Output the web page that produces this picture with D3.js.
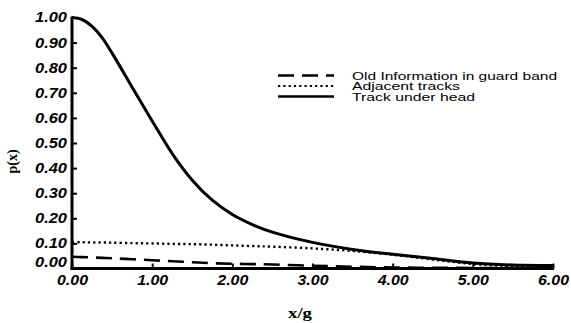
<!DOCTYPE html>
<html>
<head>
<meta charset="utf-8">
<script src="https://cdn.jsdelivr.net/npm/d3@7"></script>
<style>
  html, body { margin: 0; padding: 0; background: #fff; }
  svg { display: block; }
</style>
</head>
<body>
<svg id="chart" width="571" height="323"></svg>
<script>
// ---- Data ----
const xValues        = [0, 0.125, 0.25, 0.375, 0.5, 0.75, 1.0, 1.25, 1.5, 1.75, 2.0, 2.25, 2.5, 3.0, 3.5, 4.0, 4.5, 5.0, 5.5, 6.0];
const trackUnderHead = [1.00, 0.992, 0.965, 0.92, 0.858, 0.722, 0.588, 0.458, 0.352, 0.272, 0.215, 0.175, 0.145, 0.104, 0.076, 0.057, 0.040, 0.022, 0.014, 0.012];
const adjacentTracks = [0.105, 0.1045, 0.104, 0.1035, 0.103, 0.101, 0.100, 0.098, 0.097, 0.095, 0.092, 0.0895, 0.087, 0.080, 0.070, 0.055, 0.036, 0.018, 0.010, 0.008];
const oldInfoGuard   = [0.047, 0.0455, 0.044, 0.0425, 0.041, 0.037, 0.033, 0.029, 0.025, 0.021, 0.019, 0.0175, 0.016, 0.011, 0.007, 0.004, 0.003, 0.002, 0.002, 0.002];
const xTicks = [0, 1, 2, 3, 4, 5, 6];
const yTicks = [0, 0.1, 0.2, 0.3, 0.4, 0.5, 0.6, 0.7, 0.8, 0.9, 1.0];
const seriesNames = ["Old Information in guard band", "Adjacent tracks", "Track under head"];
const xTitle = "x/g";
const yTitle = "p(x)";

// ---- Layout ----
const svg = d3.select("#chart");
const x = d3.scaleLinear().domain([0, 6]).range([72, 553]);
const y = d3.scaleLinear().domain([0, 1]).range([268.5, 17.5]);

const tickFont = "'Liberation Sans', Arial, Helvetica, sans-serif";

// Lines
const line = d3.line().x((d, i) => x(xValues[i])).y(d => y(d)).curve(d3.curveCatmullRom.alpha(0.5));

const series = [
  { name: seriesNames[0], values: oldInfoGuard,   dash: "16,8",    width: 2.6 },
  { name: seriesNames[1], values: adjacentTracks, dash: "2.2,3.1", width: 2.4 },
  { name: seriesNames[2], values: trackUnderHead, dash: null,      width: 3 }
];

svg.append("g").selectAll("path").data(series).join("path")
  .attr("d", d => line(d.values))
  .attr("fill", "none")
  .attr("stroke", "#000")
  .attr("stroke-width", d => d.width)
  .attr("stroke-dasharray", d => d.dash);

// Y axis
const yAxis = svg.append("g")
  .attr("transform", `translate(${x(0)},0)`)
  .call(d3.axisLeft(y).tickValues(yTicks).tickFormat(d3.format(".2f"))
        .tickSize(-5).tickSizeOuter(0).tickPadding(5));
yAxis.select(".domain").attr("stroke-width", 3).attr("d", `M0,${y(1) - 1}V${y(0) + 1.5}`);
yAxis.selectAll(".tick line").attr("stroke-width", 2);
yAxis.selectAll("text")
  .attr("font-family", tickFont).attr("font-weight", "bold").attr("font-style", "italic")
  .attr("font-size", 14).attr("fill", "#000")
  .attr("textLength", 32).attr("lengthAdjust", "spacingAndGlyphs");
yAxis.selectAll(".tick").filter(d => d === 0).select("text").attr("dy", "-0.12em");

// X axis
const xAxis = svg.append("g")
  .attr("transform", `translate(0,${y(0)})`)
  .call(d3.axisBottom(x).tickValues(xTicks).tickFormat(d3.format(".2f"))
        .tickSize(-5).tickSizeOuter(0).tickPadding(6.5));
xAxis.select(".domain").attr("stroke-width", 3).attr("d", `M${x(0) - 1.5},0H${x(6) + 1}`);
xAxis.selectAll(".tick line").attr("stroke-width", 2);
xAxis.selectAll("text")
  .attr("font-family", tickFont).attr("font-weight", "bold").attr("font-style", "italic")
  .attr("font-size", 14).attr("fill", "#000")
  .attr("textLength", 31).attr("lengthAdjust", "spacingAndGlyphs");

// Axis titles
svg.append("text")
  .attr("x", 300).attr("y", 318)
  .attr("text-anchor", "middle")
  .attr("font-family", "'Liberation Serif', 'Times New Roman', serif")
  .attr("font-weight", "bold").attr("font-size", 14)
  .attr("textLength", 24).attr("lengthAdjust", "spacingAndGlyphs")
  .text(xTitle);

svg.append("text")
  .attr("transform", "translate(17,161.5) rotate(-90)")
  .attr("text-anchor", "middle")
  .attr("font-family", "'Liberation Serif', 'Times New Roman', serif")
  .attr("font-weight", "bold").attr("font-size", 14)
  .text(yTitle);

// Legend
const legendWidths = [205, 108, 123];
const legend = svg.append("g").selectAll("g").data(series).join("g")
  .attr("transform", (d, i) => `translate(0,${75.5 + i * 10.5})`);
legend.append("line")
  .attr("x1", 278).attr("x2", 334).attr("y1", 0).attr("y2", 0)
  .attr("stroke", "#000")
  .attr("stroke-width", d => d.width * 0.9)
  .attr("stroke-dasharray", d => d.dash);
legend.append("text")
  .attr("x", 352).attr("y", 4)
  .attr("font-family", tickFont).attr("font-size", 11.5)
  .attr("textLength", (d, i) => legendWidths[i]).attr("lengthAdjust", "spacingAndGlyphs")
  .text(d => d.name);
</script>
</body>
</html>
